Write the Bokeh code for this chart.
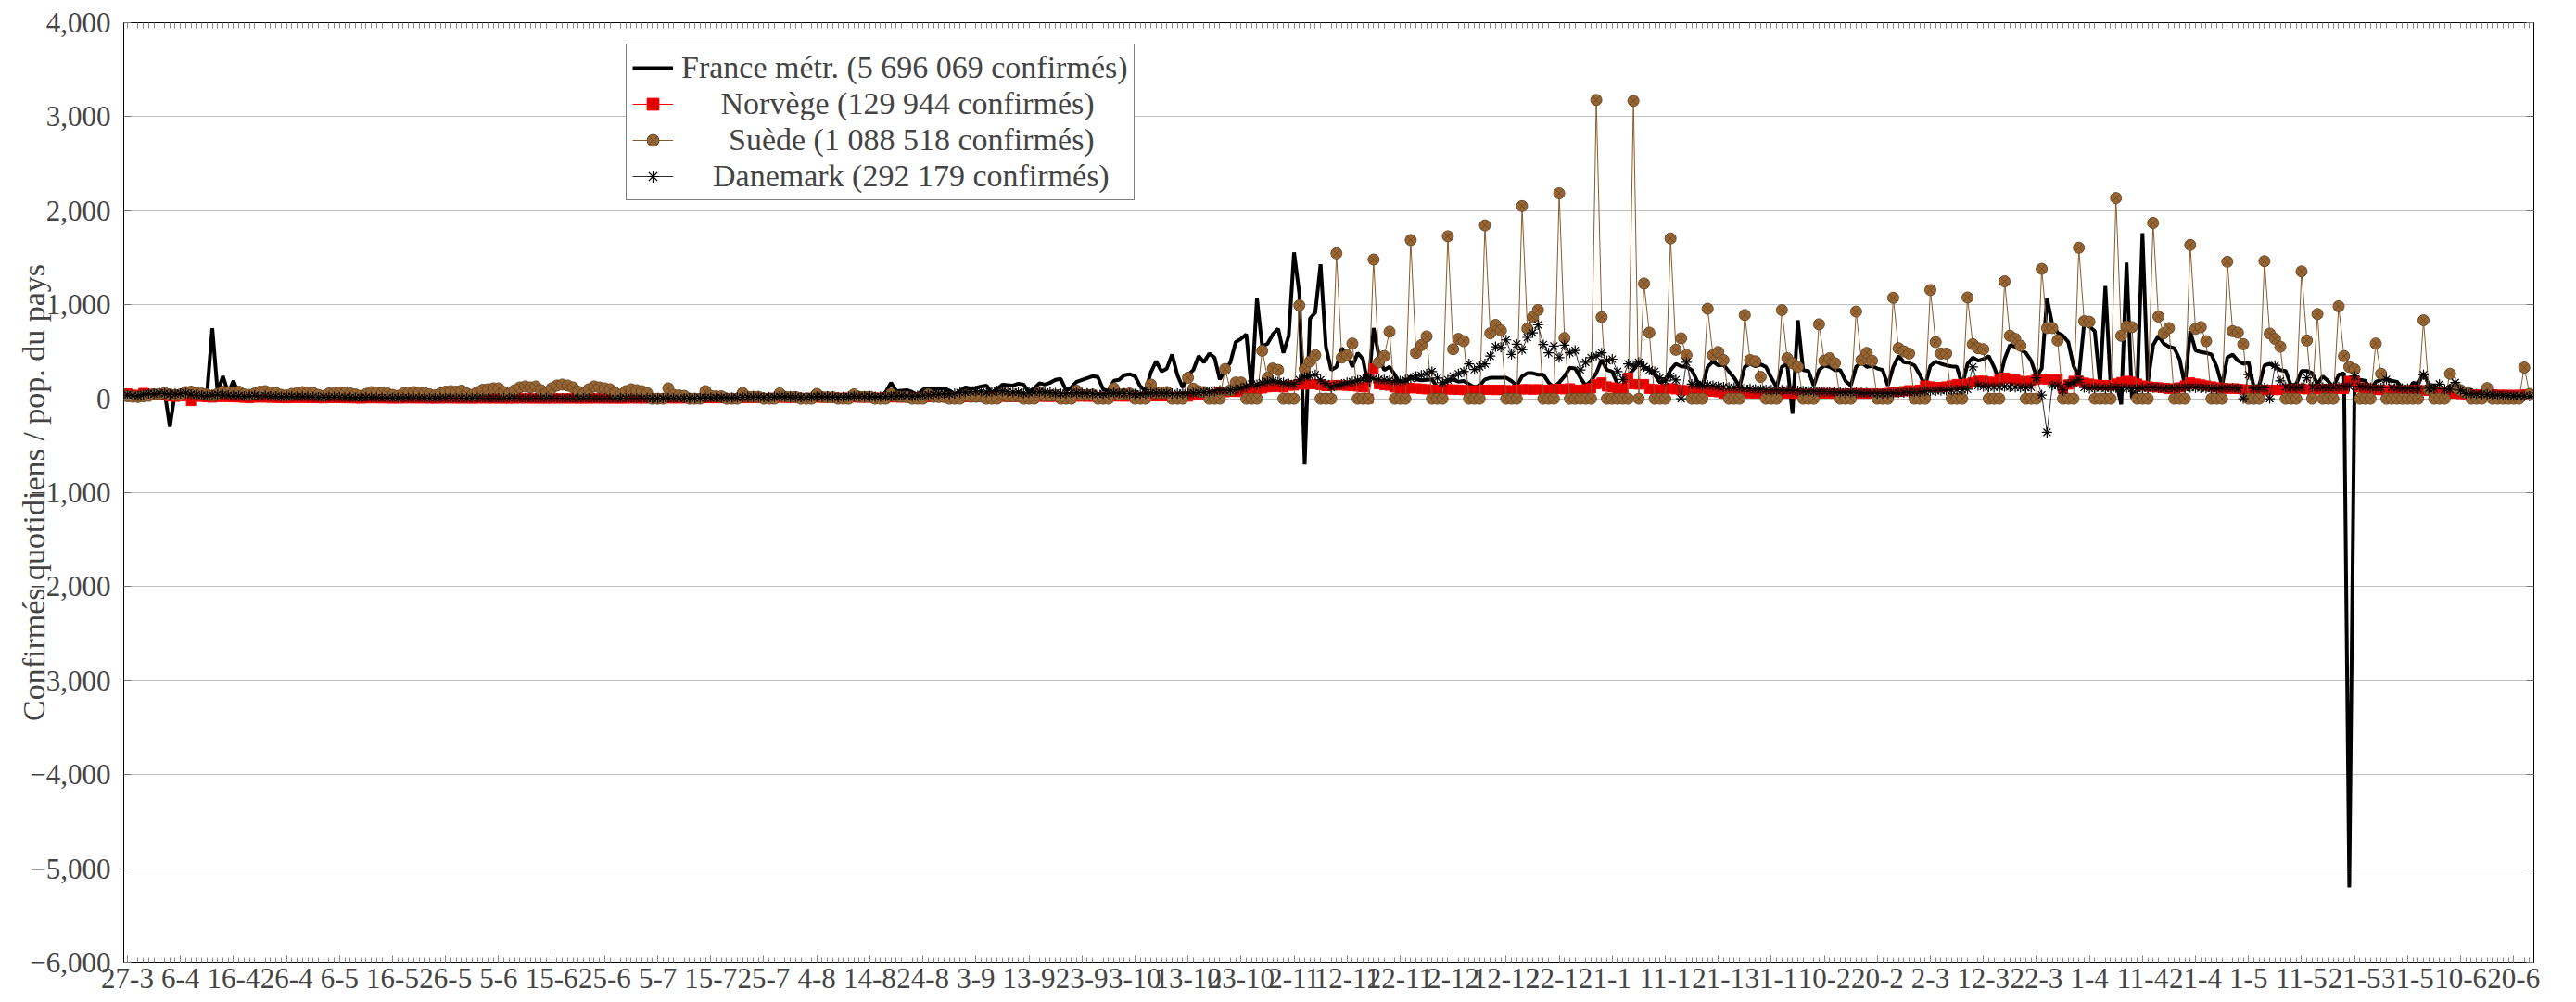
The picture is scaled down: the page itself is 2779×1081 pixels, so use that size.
from bokeh.plotting import figure
from bokeh.models import Range1d, FixedTicker, LinearAxis, Legend, LegendItem
from bokeh.embed import file_html
from bokeh.resources import INLINE

FONT = "Liberation Serif"

# daily confirmed cases per million, one row per week (Fri..Thu), from 27-3-2020
france = [
    60, 75, 70, 90, 80, 85, 70,
    75, -300, 80, 60, 55, 65, 70,
    65, 50, 750, 70, 240, 60, 190,
    40, 35, 30, 45, 40, 35, 30,
    25, 20, 15, 20, 25, 20, 18,
    15, 12, 10, 15, 18, 15, 12,
    10, 8, 6, 10, 12, 10, 9,
    8, 7, 5, 8, 9, 8, 7,
    7, 6, 4, 7, 8, 7, 6,
    6, 5, 4, 6, 7, 7, 6,
    6, 5, 3, 6, 7, 6, 6,
    6, 5, 3, 5, 6, 6, 5,
    6, 5, 3, 6, 7, 7, 6,
    7, 5, 4, 7, 8, 8, 7,
    8, 6, 4, 8, 9, 9, 9,
    10, 8, 5, 10, 11, 12, 12,
    13, 10, 6, 13, 15, 16, 16,
    18, 14, 8, 18, 20, 22, 22,
    25, 20, 10, 25, 28, 30, 32,
    35, 28, 15, 40, 45, 50, 55,
    60, 45, 25, 70, 170, 80, 85,
    90, 70, 40, 95, 110, 100, 105,
    110, 85, 45, 80, 120, 110, 115,
    130, 140, 60, 100, 150, 145, 140,
    160, 150, 70, 110, 165, 150, 170,
    200, 210, 90, 120, 180, 200, 220,
    240, 230, 100, 80, 190, 200, 250,
    260, 240, 130, 90, 280, 400, 290,
    320, 470, 250, 120, 250, 305, 453,
    387, 480, 437, 205, 305, 387, 602,
    636, 685, 89, 1066, 553, 586, 685,
    745, 487, 669, 1556, 1116, -700, 851,
    917, 1430, 553, 305, 338, 536, 487,
    338, 487, 420, 122, 752, 453, 305,
    338, 255, 155, 172, 238, 205, 195,
    200, 205, 122, 155, 189, 205, 182,
    189, 155, 122, 139, 205, 222, 222,
    222, 222, 189, 139, 238, 271, 271,
    255, 255, 172, 122, 172, 238, 328,
    321, 222, 139, 189, 271, 414, 305,
    288, 155, 106, 250, 305, 387, 338,
    305, 255, 172, 195, 305, 371, 344,
    338, 305, 189, 139, 338, 394, 354,
    361, 288, 222, 129, 338, 371, 344,
    364, 338, 222, 122, 338, 371, -160,
    834, 305, 295, 139, 305, 354, 338,
    305, 305, 189, 139, 338, 387, 338,
    348, 321, 305, 139, 338, 453, 387,
    381, 354, 255, 139, 348, 394, 371,
    354, 344, 338, 139, 371, 437, 404,
    420, 453, 338, 189, 420, 569, 553,
    520, 487, 404, 238, 321, 1066, 785,
    702, 669, 602, 350, 230, 801, 768,
    718, 155, 1198, 139, 189, -60, 1447,
    7, 89, 1761, 172, 569, 669, 586,
    553, 536, 420, 139, 718, 513, 497,
    487, 470, 338, 139, 437, 470, 404,
    371, 387, 122, 139, 354, 371, 338,
    305, 295, 139, 155, 295, 295, 271,
    155, 238, 189, 122, 255, 271, -5200,
    222, 200, 190, 90, 180, 200, 210,
    190, 180, 110, 70, 170, 160, 270,
    150, 140, 80, 50, 140, 130, 110,
    100, 95, 50, 40, 90, 80, 70,
    65, 60, 30, 25, 60, 55,
]

norway = [
    55, 40, 35, 60, 50, 45, 40,
    35, 25, 20, 30, 28, -25, 25,
    20, 15, 12, 18, 20, 18, 15,
    14, 10, 8, 12, 14, 12, 11,
    10, 7, 5, 9, 10, 9, 8,
    7, 5, 4, 7, 8, 6, 5,
    5, 3, 2, 4, 5, 4, 4,
    3, 2, 2, 3, 4, 3, 3,
    3, 2, 1, 3, 3, 3, 2,
    2, 2, 1, 2, 3, 2, 2,
    2, 1, 1, 2, 3, 2, 2,
    2, 1, 1, 2, 2, 2, 2,
    2, 1, 1, 2, 3, 2, 2,
    2, 1, 1, 2, 3, 3, 2,
    3, 2, 1, 3, 4, 3, 3,
    4, 3, 2, 4, 6, 5, 5,
    6, 4, 3, 6, 8, 8, 9,
    10, 7, 5, 9, 12, 11, 10,
    11, 8, 6, 10, 13, 12, 11,
    12, 9, 7, 11, 14, 13, 12,
    13, 10, 8, 12, 15, 14, 13,
    14, 10, 8, 13, 17, 16, 15,
    16, 12, 9, 14, 18, 17, 16,
    18, 13, 10, 16, 21, 20, 19,
    20, 14, 11, 17, 22, 21, 20,
    21, 15, 12, 18, 24, 23, 22,
    22, 16, 12, 18, 25, 24, 23,
    24, 17, 13, 20, 27, 26, 25,
    26, 18, 14, 20, 23, 35, 45,
    56, 40, 35, 73, 70, 75, 73,
    80, 70, 106, 100, 110, 122, 125,
    130, 120, 139, 140, 155, 150, 155,
    155, 145, 135, 139, 145, 140, 139,
    135, 130, 122, 0, 320, 155, 145,
    139, 120, 110, 106, 115, 110, 106,
    100, 95, 90, 95, 100, 98, 95,
    92, 88, 85, 90, 95, 95, 92,
    95, 90, 88, 95, 100, 100, 98,
    100, 95, 90, 100, 105, 100, 110,
    95, 90, 100, 110, 155, 172, 130,
    120, 106, 110, 222, 155, 150, 155,
    106, 100, 95, 106, 110, 100, 90,
    90, 85, 80, 90, 85, 75, 70,
    56, 55, 50, 56, 60, 58, 56,
    55, 50, 48, 55, 58, 56, 55,
    56, 50, 48, 56, 58, 57, 56,
    55, 50, 48, 56, 58, 56, 55,
    56, 52, 50, 60, 70, 75, 80,
    90, 85, 95, 139, 130, 125, 122,
    130, 140, 155, 150, 160, 175, 189,
    190, 180, 175, 200, 222, 215, 205,
    189, 180, 190, 205, 210, 205, 200,
    205, 106, 150, 189, 189, 170, 160,
    150, 140, 145, 139, 160, 175, 189,
    180, 160, 139, 130, 125, 120, 115,
    106, 110, 120, 140, 172, 160, 150,
    140, 130, 120, 115, 106, 110, 105,
    100, 95, 92, 95, 90, 95, 92,
    95, 100, 100, 105, 106, 100, 98,
    100, 105, 102, 100, 106, 106, 189,
    189, 120, 110, 100, 95, 92, 90,
    90, 88, 85, 90, 92, 90, 90,
    85, 75, 70, 65, 56, 55, 50,
    48, 45, 42, 40, 40, 42, 40,
    40, 40, 38, 40, 42, 40,
]

sweden = [
    25, 20, 18, 25, 30, 45, 50,
    60, 45, 40, 45, 70, 75, 60,
    55, 45, 30, 50, 75, 70, 65,
    75, 45, 40, 55, 75, 80, 65,
    60, 40, 35, 50, 60, 70, 65,
    60, 40, 30, 55, 60, 65, 60,
    55, 45, 30, 50, 70, 65, 60,
    55, 40, 30, 55, 65, 70, 65,
    60, 45, 35, 55, 75, 80, 75,
    85, 55, 40, 70, 95, 100, 110,
    110, 70, 50, 90, 120, 130, 120,
    130, 90, 60, 110, 140, 150, 140,
    120, 75, 50, 100, 130, 120, 110,
    100, 60, 40, 80, 100, 90, 80,
    60, 0, 0, 0, 110, 40, 35,
    30, 0, 0, 0, 80, 30, 25,
    25, 0, 0, 0, 60, 20, 20,
    20, 0, 0, 0, 55, 20, 18,
    18, 0, 0, 0, 50, 18, 16,
    16, 0, 0, 0, 45, 20, 18,
    20, 0, 0, 0, 50, 22, 20,
    18, 0, 0, 0, 45, 20, 18,
    18, 0, 0, 0, 40, 20, 20,
    22, 0, 0, 0, 55, 25, 25,
    28, 0, 0, 0, 70, 30, 32,
    35, 0, 0, 0, 85, 38, 40,
    42, 0, 0, 0, 110, 45, 50,
    55, 0, 0, 0, 150, 60, 65,
    70, 0, 0, 0, 222, 106, 80,
    70, 0, 0, 0, 315, 90, 172,
    172, 0, 0, 0, 510, 222, 321,
    305, 0, 0, 0, 993, 315, 395,
    463, 0, 0, 0, 1546, 437, 463,
    586, 0, 0, 0, 1480, 387, 453,
    712, 0, 0, 0, 1688, 487, 569,
    662, 0, 0, 0, 1728, 526, 636,
    612, 0, 0, 0, 1844, 695, 785,
    725, 0, 0, 0, 2049, 745, 867,
    944, 0, 0, 0, 2185, 645, 0,
    0, 0, 0, 0, 3178, 867, 0,
    0, 0, 0, 0, 3168, 0, 1225,
    702, 0, 0, 0, 1705, 520, 642,
    463, 0, 0, 0, 957, 463, 497,
    410, 0, 0, 0, 890, 410, 397,
    232, 0, 0, 0, 943, 430, 377,
    338, 0, 0, 0, 791, 404, 430,
    377, 0, 0, 0, 927, 410, 487,
    404, 0, 0, 0, 1073, 536, 503,
    480, 0, 0, 0, 1156, 602, 480,
    480, 0, 0, 0, 1076, 579, 536,
    526, 0, 0, 0, 1248, 669, 636,
    563, 0, 0, 0, 1381, 751, 751,
    619, 0, 0, 0, 1606, 824, 818,
    0, 0, 0, 0, 2135, 669, 768,
    761, 0, 0, 0, 1870, 874, 695,
    751, 0, 0, 0, 1635, 742, 761,
    612, 0, 0, 0, 1457, 718, 702,
    579, 0, 0, 0, 1463, 692, 636,
    553, 0, 0, 0, 1354, 619, 0,
    900, 0, 0, 0, 983, 453, 338,
    311, 0, 0, 0, 586, 265, 0,
    0, 0, 0, 0, 0, 0, 834,
    100, 0, 0, 0, 265, 120, 90,
    60, 0, 0, 0, 113, 0, 0,
    0, 0, 0, 0, 331, 50,
]

denmark = [
    40, 35, 30, 45, 55, 50, 60,
    55, 45, 50, 55, 60, 45, 40,
    35, 30, 40, 45, 40, 35, 30,
    30, 25, 30, 35, 25, 30, 25,
    25, 20, 22, 25, 20, 22, 20,
    18, 15, 20, 15, 18, 16, 14,
    13, 10, 12, 14, 12, 11, 10,
    10, 8, 9, 10, 9, 8, 8,
    7, 6, 7, 8, 7, 6, 6,
    6, 5, 6, 7, 6, 5, 5,
    5, 5, 6, 7, 6, 5, 5,
    6, 5, 5, 7, 6, 6, 5,
    5, 4, 5, 6, 5, 5, 4,
    4, 4, 5, 6, 5, 4, 4,
    4, 3, 4, 5, 5, 4, 5,
    6, 5, 6, 8, 9, 10, 11,
    12, 10, 11, 14, 16, 17, 18,
    19, 15, 16, 20, 22, 20, 19,
    18, 15, 16, 20, 22, 21, 20,
    20, 17, 18, 22, 25, 24, 23,
    22, 20, 22, 25, 28, 30, 32,
    30, 28, 30, 35, 40, 45, 50,
    55, 50, 55, 65, 70, 75, 80,
    80, 70, 75, 85, 80, 75, 70,
    70, 60, 65, 70, 75, 70, 65,
    60, 55, 58, 65, 62, 60, 58,
    55, 50, 52, 60, 62, 58, 55,
    55, 50, 52, 58, 62, 60, 58,
    60, 55, 56, 58, 56, 60, 65,
    70, 75, 80, 90, 85, 90, 95,
    110, 130, 155, 150, 170, 180, 190,
    180, 170, 160, 155, 200, 230, 240,
    255, 200, 160, 120, 140, 155, 170,
    180, 195, 210, 222, 215, 205, 200,
    195, 190, 189, 200, 215, 238, 250,
    265, 288, 220, 170, 200, 240, 265,
    288, 370, 310, 340, 370, 453, 553,
    545, 625, 470, 580, 520, 652, 700,
    785, 576, 487, 560, 437, 570, 487,
    513, 305, 387, 437, 453, 487, 404,
    420, 288, 205, 370, 354, 387, 340,
    305, 288, 222, 189, 238, 200, 0,
    387, 155, 150, 140, 145, 139, 130,
    125, 122, 120, 115, 110, 106, 100,
    98, 95, 92, 90, 92, 90, 88,
    85, 82, 80, 78, 76, 75, 73,
    72, 70, 68, 70, 66, 62, 60,
    58, 56, 56, 58, 60, 62, 65,
    70, 72, 75, 80, 82, 85, 88,
    90, 92, 95, 98, 100, 338, 139,
    130, 125, 122, 125, 128, 125, 122,
    120, 118, 122, 222, 40, -358, 139,
    139, 90, 155, 170, 205, 120, 110,
    115, 112, 110, 115, 118, 115, 112,
    110, 108, 112, 115, 118, 115, 110,
    112, 110, 115, 118, 120, 118, 115,
    112, 110, 108, 112, 115, 112, 110,
    0, 255, 110, 112, 115, 0, 354,
    189, 125, 120, 118, 120, 222, 125,
    122, 120, 118, 122, 125, 128, 130,
    238, 130, 125, 120, 118, 115, 205,
    120, 115, 110, 108, 105, 102, 255,
    110, 108, 155, 100, 98, 172, 90,
    55, 52, 50, 48, 45, 42, 40,
    38, 35, 32, 30, 28, 25,
]

x_ticks = list(range(0, 451, 10))
x_labels = ["27-3", "6-4", "16-4", "26-4", "6-5", "16-5", "26-5", "5-6", "15-6",
            "25-6", "5-7", "15-7", "25-7", "4-8", "14-8", "24-8", "3-9", "13-9",
            "23-9", "3-10", "13-10", "23-10", "2-11", "12-11", "22-11", "2-12",
            "12-12", "22-12", "1-1", "11-1", "21-1", "31-1", "10-2", "20-2", "2-3",
            "12-3", "22-3", "1-4", "11-4", "21-4", "1-5", "11-5", "21-5", "31-5",
            "10-6", "20-6"]
y_ticks = [-6000, -5000, -4000, -3000, -2000, -1000, 0, 1000, 2000, 3000, 4000]
y_labels = ["\u22126,000", "\u22125,000", "\u22124,000", "\u22123,000", "\u22122,000",
            "\u22121,000", "0", "1,000", "2,000", "3,000", "4,000"]

legend_labels = ["France métr. (5 696 069 confirmés)",
                 "\u00a0" * 5 + "Norvège (129 944 confirmés)",
                 "\u00a0" * 6 + "Suède (1 088 518 confirmés)",
                 "\u00a0" * 4 + "Danemark (292 179 confirmés)"]

days = list(range(len(france)))

p = figure(width=2771, height=1080,
           x_range=Range1d(-0.7, 453.8), y_range=Range1d(-6000, 4000),
           output_backend="svg", toolbar_location=None,
           min_border_left=133, min_border_top=24,
           min_border_right=38, min_border_bottom=42)
p.outline_line_color = "black"
p.outline_line_width = 1

# bottom axis: dates every 10 days, a tick each day
xa = p.xaxis[0]
xa.ticker = FixedTicker(ticks=x_ticks, minor_ticks=days)
xa.major_label_overrides = dict(zip(x_ticks, x_labels))
xa.major_label_text_font = FONT
xa.major_label_text_font_size = "31px"
xa.major_label_standoff = 6
xa.major_tick_in = 8
xa.major_tick_out = 0
xa.minor_tick_in = 6
xa.minor_tick_out = 0
xa.major_tick_line_color = "#777777"
xa.minor_tick_line_color = "#888888"
xa.axis_line_color = "black"

ya = p.yaxis[0]
ya.ticker = FixedTicker(ticks=y_ticks)
ya.major_label_overrides = dict(zip(y_ticks, y_labels))
ya.major_label_text_font = FONT
ya.major_label_text_font_size = "31px"
ya.major_label_standoff = 14
ya.major_tick_in = 8
ya.major_tick_out = 0
ya.minor_tick_out = 0
ya.major_tick_line_color = "#777777"
ya.axis_line_color = "black"
ya.axis_label = "Confirmés quotidiens / pop. du pays"
ya.axis_label_text_font = FONT
ya.axis_label_text_font_size = "34px"
ya.axis_label_text_font_style = "normal"
ya.axis_label_standoff = -26

top = LinearAxis(ticker=FixedTicker(ticks=[], minor_ticks=days))
top.minor_tick_in = 6
top.minor_tick_out = 0
top.minor_tick_line_color = "#888888"
top.axis_line_color = "black"
p.add_layout(top, "above")

right = LinearAxis(ticker=FixedTicker(ticks=[], minor_ticks=y_ticks))
right.minor_tick_in = 8
right.minor_tick_out = 0
right.minor_tick_line_color = "#777777"
right.axis_line_color = "black"
p.add_layout(right, "right")

p.xgrid.visible = False
p.ygrid.ticker = FixedTicker(ticks=y_ticks)
p.ygrid.grid_line_color = "#c0c0c0"

fr = p.line(days, france, line_color="black", line_width=4)
no_l = p.line(days, norway, line_color="red", line_width=1)
no_m = p.scatter(days, norway, marker="square", size=10,
                 fill_color="#e00000", line_color="red")
se_l = p.line(days, sweden, line_color="#8a5a2c", line_width=1)
se_m = p.scatter(days, sweden, marker="circle_x", size=12,
                 fill_color="#996633", line_color="#6b4a26", line_width=1)
dk_l = p.line(days, denmark, line_color="#333333", line_width=1)
dk_m = p.scatter(days, denmark, marker="asterisk", size=11,
                 line_color="black", line_width=1.2)

legend = Legend(items=[
    LegendItem(label=legend_labels[0], renderers=[fr]),
    LegendItem(label=legend_labels[1], renderers=[no_l, no_m]),
    LegendItem(label=legend_labels[2], renderers=[se_l, se_m]),
    LegendItem(label=legend_labels[3], renderers=[dk_l, dk_m]),
], location=(542, 822))
legend.border_line_color = "black"
legend.border_line_width = 1
legend.background_fill_alpha = 1
legend.label_text_font = FONT
legend.label_text_font_size = "34px"
legend.glyph_width = 44
legend.glyph_height = 32
legend.label_height = 32
legend.spacing = 1
legend.padding = 6
legend.margin = 0
legend.label_standoff = 9
p.add_layout(legend)

open("out.html", "w").write(file_html(p, INLINE))
